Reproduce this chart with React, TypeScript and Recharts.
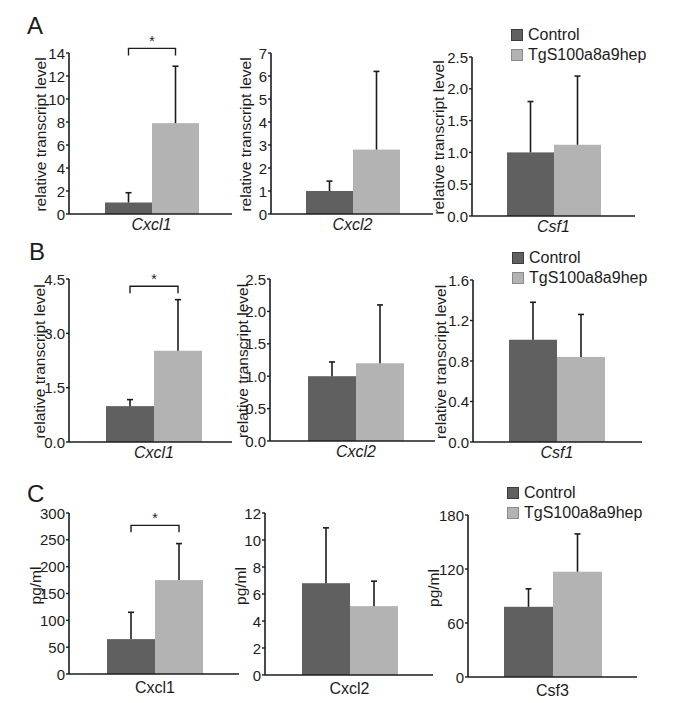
import { Bar, BarChart, Legend, XAxis, YAxis } from 'recharts'

const FONT = '"Liberation Sans", Arial, Helvetica, sans-serif'
const DARK = '#606060'
const LIGHT = '#b3b3b3'
const INK = '#1c1c1c'

// A: relative transcript levels
const aGenes = ['Cxcl1', 'Cxcl2', 'Csf1']
const aControl = [1.0, 1.0, 1.0]
const aControlErr = [0.85, 0.43, 0.8]
const aTg = [7.9, 2.8, 1.12]
const aTgErr = [4.95, 3.4, 1.08]
const aSig = [14.4, null, null]
const aTicks = [
  [0, 2, 4, 6, 8, 10, 12, 14],
  [0, 1, 2, 3, 4, 5, 6, 7],
  [0, 0.5, 1.0, 1.5, 2.0, 2.5],
]

// B: relative transcript levels
const bGenes = ['Cxcl1', 'Cxcl2', 'Csf1']
const bControl = [0.99, 1.0, 1.01]
const bControlErr = [0.18, 0.22, 0.37]
const bTg = [2.52, 1.2, 0.84]
const bTgErr = [1.41, 0.9, 0.42]
const bSig = [4.3, null, null]
const bTicks = [
  [0, 1.5, 3.0, 4.5],
  [0, 0.5, 1.0, 1.5, 2.0, 2.5],
  [0, 0.4, 0.8, 1.2, 1.6],
]

// C: protein, pg/ml
const cGenes = ['Cxcl1', 'Cxcl2', 'Csf3']
const cControl = [65, 6.8, 78]
const cControlErr = [50, 4.1, 20]
const cTg = [175, 5.1, 117]
const cTgErr = [68, 1.85, 42]
const cSig = [277, null, null]
const cTicks = [
  [0, 50, 100, 150, 200, 250, 300],
  [0, 2, 4, 6, 8, 10, 12],
  [0, 60, 120, 180],
]

const seriesNames = ['Control', 'TgS100a8a9hep']

// placement: y-axis x, top tick y, zero y, axis end x, band padding, y-title offset
const spots = [
  [69, 53, 214, 232, 36, 34, 29],
  [271, 53, 214, 433, 35, 34, 26],
  [472, 57, 216, 635, 35, 35, 34],
  [69, 279, 442, 232, 37, 30, 30],
  [270, 279, 441, 435, 38, 31, 28],
  [473, 280, 442, 642, 36, 37, 33],
  [69, 513, 674, 239, 38, 36, 34],
  [265, 513, 675, 433, 37, 36, 25],
  [468, 515, 677, 637, 36, 36, 35],
]

const MT = 30
const XH = 30

function ErrShape(props: any) {
  const { x, y, width, height, fill, mean, err, sig } = props
  const base = y + height
  const k = mean ? height / mean : 0
  const topY = base - (mean + err) * k
  const cx = x + width / 2
  let bracket = null
  if (sig != null) {
    const sy = base - sig * k
    const left = x - width / 2
    bracket = (
      <g>
        <polyline
          points={`${left},${sy + 7} ${left},${sy} ${cx},${sy} ${cx},${sy + 7}`}
          fill="none"
          stroke={INK}
          strokeWidth={1.4}
        />
        <text x={(left + cx) / 2} y={sy - 2} textAnchor="middle" fontSize={14} fontFamily={FONT} fill={INK}>
          *
        </text>
      </g>
    )
  }
  return (
    <g>
      <rect x={x} y={y} width={width} height={height} fill={fill} />
      <line x1={cx} x2={cx} y1={y} y2={topY} stroke={INK} strokeWidth={1.6} />
      <line x1={cx - 3} x2={cx + 3} y1={topY} y2={topY} stroke={INK} strokeWidth={1.6} />
      {bracket}
    </g>
  )
}

function LegendBox({ payload }: any) {
  return (
    <div style={{ fontFamily: FONT, fontSize: 16, color: INK }}>
      {(payload || []).map((e: any) => (
        <div key={e.value} style={{ display: 'flex', alignItems: 'center', height: 20 }}>
          <span
            style={{
              width: 10,
              height: 10,
              background: e.color,
              border: `1px solid ${e.color === DARK ? '#3c3c3c' : '#8a8a8a'}`,
              marginRight: 5,
            }}
          />
          <span>{e.value}</span>
        </div>
      ))}
    </div>
  )
}

function YTick({ x, y, payload, decimals }: any) {
  return (
    <text x={x} y={y} textAnchor="end" dominantBaseline="central" fontSize={15} fontFamily={FONT} fill={INK}>
      {Number(payload.value).toFixed(decimals)}
    </text>
  )
}

function XTick({ x, y, payload, italic }: any) {
  return (
    <text
      x={x}
      y={y}
      dy="0.72em"
      textAnchor="middle"
      fontSize={16}
      fontFamily={FONT}
      fontStyle={italic ? 'italic' : 'normal'}
      fill={INK}
    >
      {payload.value}
    </text>
  )
}

function Panel({
  idx,
  gene,
  ctrl,
  ctrlErr,
  tg,
  tgErr,
  sig,
  ticks,
  yTitle,
  italic,
  legend,
}: {
  idx: number
  gene: string
  ctrl: number
  ctrlErr: number
  tg: number
  tgErr: number
  sig: number | null
  ticks: number[]
  yTitle: string
  italic: boolean
  legend: boolean
}) {
  const [ax, topY, zero, end, padL, padR, off] = spots[idx]
  const yw = off * 2
  const left = ax - yw
  const top = topY - MT
  const width = end - left
  const height = zero - topY + MT + XH
  const data = [{ gene, ctrl, tg }]
  const decimals = ticks.some((t) => !Number.isInteger(t)) ? 1 : 0
  const max = ticks[ticks.length - 1]
  return (
    <div style={{ position: 'absolute', left, top, width, height }}>
      <BarChart
        width={width}
        height={height}
        data={data}
        margin={{ top: MT, right: 0, bottom: 0, left: 0 }}
        barCategoryGap={0}
        barGap={0}
      >
        <XAxis
          dataKey="gene"
          height={XH}
          padding={{ left: padL, right: padR }}
          tickLine={false}
          tickSize={0}
          tickMargin={italic ? 4 : 7}
          axisLine={{ stroke: INK, strokeWidth: 1.6 }}
          tick={<XTick italic={italic} />}
        />
        <YAxis
          type="number"
          domain={[0, max]}
          ticks={ticks}
          interval={0}
          width={yw}
          tickSize={3}
          tickMargin={1}
          axisLine={{ stroke: INK, strokeWidth: 1.6 }}
          tickLine={{ stroke: INK, strokeWidth: 1.4 }}
          tick={<YTick decimals={decimals} />}
          label={{
            value: yTitle,
            content: (p: any) => {
              const vb = p.viewBox || {}
              const cx = vb.x + vb.width / 2
              const cy = vb.y + vb.height / 2 + (yTitle === 'pg/ml' ? -8 : 1)
              return (
                <text
                  x={cx}
                  y={cy}
                  transform={`rotate(-90 ${cx} ${cy})`}
                  textAnchor="middle"
                  dominantBaseline="central"
                  fontSize={15.5}
                  fontFamily={FONT}
                  fill={INK}
                >
                  {yTitle}
                </text>
              )
            },
          }}
        />
        {legend && (
          <Legend
            layout="vertical"
            align="center"
            verticalAlign="middle"
            content={<LegendBox />}
            wrapperStyle={{ left: ax + 39 - left, top: topY - 32 - top, width: 170 }}
          />
        )}
        <Bar
          dataKey="ctrl"
          name={seriesNames[0]}
          fill={DARK}
          isAnimationActive={false}
          shape={(p: any) => <ErrShape {...p} mean={ctrl} err={ctrlErr} sig={null} />}
        />
        <Bar
          dataKey="tg"
          name={seriesNames[1]}
          fill={LIGHT}
          isAnimationActive={false}
          shape={(p: any) => <ErrShape {...p} mean={tg} err={tgErr} sig={sig} />}
        />
      </BarChart>
    </div>
  )
}

const rows = [
  { genes: aGenes, c: aControl, ce: aControlErr, t: aTg, te: aTgErr, s: aSig, ticks: aTicks, title: 'relative transcript level', italic: true },
  { genes: bGenes, c: bControl, ce: bControlErr, t: bTg, te: bTgErr, s: bSig, ticks: bTicks, title: 'relative transcript level', italic: true },
  { genes: cGenes, c: cControl, ce: cControlErr, t: cTg, te: cTgErr, s: cSig, ticks: cTicks, title: 'pg/ml', italic: false },
]

const letters = [
  { ch: 'A', left: 27, top: 14 },
  { ch: 'B', left: 29, top: 240 },
  { ch: 'C', left: 27, top: 482 },
]

export default function App() {
  return (
    <div style={{ position: 'absolute', left: 0, top: 0, width: 685, height: 703, background: '#fff' }}>
      {letters.map((l) => (
        <div
          key={l.ch}
          style={{ position: 'absolute', left: l.left, top: l.top, fontFamily: FONT, fontSize: 24, lineHeight: '23px', color: INK }}
        >
          {l.ch}
        </div>
      ))}
      {rows.map((r, ri) =>
        r.genes.map((g, gi) => (
          <Panel
            key={`${ri}-${gi}`}
            idx={ri * 3 + gi}
            gene={g}
            ctrl={r.c[gi]}
            ctrlErr={r.ce[gi]}
            tg={r.t[gi]}
            tgErr={r.te[gi]}
            sig={r.s[gi]}
            ticks={r.ticks[gi]}
            yTitle={r.title}
            italic={r.italic}
            legend={gi === 2}
          />
        )),
      )}
    </div>
  )
}
